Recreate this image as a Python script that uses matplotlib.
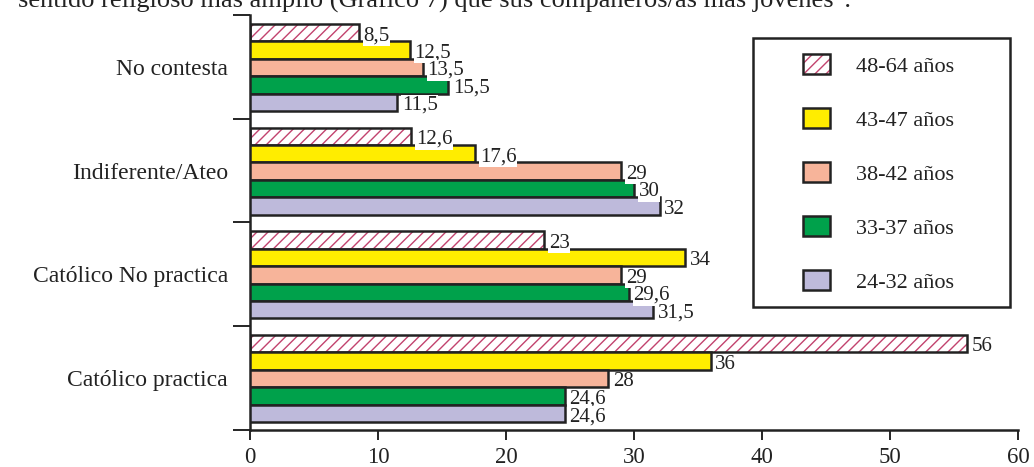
import numpy as np
import matplotlib.pyplot as plt
from matplotlib.patches import Patch, Rectangle
from matplotlib.legend_handler import HandlerTuple

plt.rcParams['font.family'] = ['Liberation Serif', 'DejaVu Serif']

# categories listed bottom to top
categories = ['Católico practica', 'Católico No practica', 'Indiferente/Ateo', 'No contesta']
age_groups = ['48-64 años', '43-47 años', '38-42 años', '33-37 años', '24-32 años']

# one list per age group, same order as categories
values = {
    '48-64 años': [56, 23, 12.6, 8.5],
    '43-47 años': [36, 34, 17.6, 12.5],
    '38-42 años': [28, 29, 29, 13.5],
    '33-37 años': [24.6, 29.6, 30, 15.5],
    '24-32 años': [24.6, 31.5, 32, 11.5],
}
labels = {
    '48-64 años': ['56', '23', '12,6', '8,5'],
    '43-47 años': ['36', '34', '17,6', '12,5'],
    '38-42 años': ['28', '29', '29', '13,5'],
    '33-37 años': ['24,6', '29,6', '30', '15,5'],
    '24-32 años': ['24,6', '31,5', '32', '11,5'],
}
colors = {
    '48-64 años': 'white',
    '43-47 años': '#FFED00',
    '38-42 años': '#F7B49A',
    '33-37 años': '#00A14B',
    '24-32 años': '#BEBADB',
}
hatch_color = '#C2436E'
ink = '#222222'

fig = plt.figure(figsize=(10.34, 4.67), dpi=100)
ax = fig.add_axes([250 / 1034, 37 / 467, 768 / 1034, 415 / 467])

y = np.arange(len(categories))
h = 0.168
edge_lw = 1.8

for j, grp in enumerate(age_groups):
    pos = y + (2 - j) * h - 0.005
    vals = values[grp]
    if j == 0:
        ax.barh(pos, vals, height=h, color='white', edgecolor=hatch_color,
                hatch='///', linewidth=0, zorder=2)
        ax.barh(pos, vals, height=h, fill=False, edgecolor=ink,
                linewidth=edge_lw, zorder=3)
    else:
        ax.barh(pos, vals, height=h, color=colors[grp], edgecolor=ink,
                linewidth=edge_lw, zorder=3)
    for p, v, t in zip(pos, vals, labels[grp]):
        ax.text(v + 0.35, p - 0.03, t, va='center', ha='left', fontsize=15,
                color=ink, zorder=4,
                bbox=dict(facecolor='white', edgecolor='none', pad=0.5))

ax.set_xlim(0, 60)
ax.set_ylim(-0.5, 3.5)
ax.set_xticks(np.arange(0, 61, 10))
ax.set_yticks(y)
ax.set_yticklabels(categories)
ax.set_yticks(np.arange(-0.5, 3.6, 1), minor=True)
ax.tick_params(axis='y', which='major', length=0, pad=16, labelsize=17, labelcolor=ink)
ax.tick_params(axis='y', which='minor', length=12, width=1.2, direction='out')
ax.tick_params(axis='x', length=7, width=1.2, direction='out', labelsize=16.5,
               pad=5, labelcolor=ink)

for side in ['top', 'right']:
    ax.spines[side].set_visible(False)
for side in ['left', 'bottom']:
    ax.spines[side].set_linewidth(edge_lw)
    ax.spines[side].set_color(ink)

# legend: hatched patch needs a black outline on top of the colored hatch
handles = []
for j, grp in enumerate(age_groups):
    if j == 0:
        handles.append((Patch(facecolor='white', edgecolor=hatch_color, hatch='///', linewidth=0),
                        Patch(fill=False, edgecolor=ink, linewidth=edge_lw)))
    else:
        handles.append(Patch(facecolor=colors[grp], edgecolor=ink, linewidth=edge_lw))

fig.patches.append(Rectangle((753 / 1034, (467 - 307) / 467), 257 / 1034, 269 / 467,
                             transform=fig.transFigure, fill=False,
                             edgecolor=ink, linewidth=edge_lw))
leg = fig.legend(handles, age_groups, handler_map={tuple: HandlerTuple(ndivide=1)},
                 loc='upper left', bbox_to_anchor=(803 / 1034, (467 - 54) / 467),
                 frameon=False, fontsize=16, handlelength=1.22, handleheight=1.0,
                 handletextpad=1.15, labelspacing=1.42, borderpad=0, borderaxespad=0)
for t in leg.get_texts():
    t.set_color(ink)

fig.text(18 / 1034, 1 - 8 / 467,
         'sentido religioso más amplio (Gráfico 7) que sus compañeros/as más jóvenes".',
         fontsize=19, va='baseline', ha='left', color=ink)

fig.savefig('out.png', dpi=100)
